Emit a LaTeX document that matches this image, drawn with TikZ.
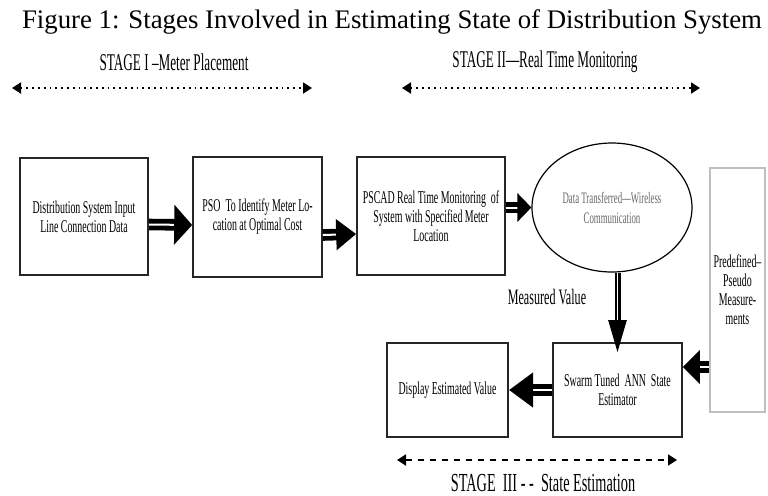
\documentclass[tikz,border=0pt]{standalone}
\usepackage{fontspec}
\setmainfont{Liberation Serif}
\newfontfamily\condfont{Liberation Serif}[FakeStretch=0.55]
\usetikzlibrary{arrows.meta,shapes.geometric,positioning}

\tikzset{
  blockbox/.style={draw=black!85, line width=0.8pt, align=center, inner sep=1pt,
    font=\condfont\fontsize{9}{9.5}\selectfont},
  fatarrow/.style={draw=black, double=white, double distance=1pt, line width=2.4pt},
  stagespan/.style={line width=0.9pt, {Triangle[length=4.5pt,width=5.5pt]}-{Triangle[length=4.5pt,width=5.5pt]}},
  stagelabel/.style={font=\condfont\fontsize{12}{13}\selectfont},
}

\begin{document}
\begin{tikzpicture}[x=0.5pt,y=-0.5pt]
    \useasboundingbox (0,0) rectangle (768,495);
    \node at (392,22) (title) {\fontsize{13.4}{15}\selectfont Figure 1: Stages Involved in Estimating State of Distribution System};
    % stage markers
    \coordinate (s1a) at (12,88);
    \coordinate (s1b) at (312,88);
    \coordinate (s2a) at (402,88);
    \coordinate (s2b) at (700,88);
    \coordinate (s3a) at (397,460);
    \coordinate (s3b) at (677,460);
    \draw[stagespan, dotted] (s1a) -- (s1b);
    \draw[stagespan, dotted] (s2a) -- (s2b);
    \draw[stagespan, dashed] (s3a) -- (s3b);
    \node[stagelabel] at (174,62) (st1) {STAGE I –Meter Placement};
    \node[stagelabel] at (545,62) (st2) {STAGE II—Real Time Monitoring};
    \node[stagelabel, font=\condfont\fontsize{13}{14}\selectfont] at (543,483) (st3) {STAGE\ \ III - -\ \ State Estimation};
    % blocks
    \node[blockbox, minimum width=64pt, minimum height=58.5pt] at (84,216.5) (input) {Distribution System Input\\Line Connection Data};
    \node[blockbox, minimum width=64.5pt, minimum height=60pt] at (257.5,217) (pso) {PSO\ \ To Identify Meter Lo-\\cation at Optimal Cost};
    \node[blockbox, minimum width=74pt, minimum height=59pt] at (431,216) (pscad) {PSCAD Real Time Monitoring\ \ of\\System with Specified Meter\\Location};
    \node[draw=black, line width=0.6pt, ellipse, minimum width=80pt, minimum height=64.5pt, align=center,
      text=black!60, font=\condfont\fontsize{8}{10}\selectfont] at (612,207.5) (wireless) {Data Transferred—Wireless\\Communication};
    \node[blockbox, draw=black!25, minimum width=27.5pt, minimum height=122pt] at (737.5,290) (pseudo) {Predefined–\\Pseudo\\Measure-\\ments};
    \node[blockbox, minimum width=64.5pt, minimum height=47pt] at (617.5,390) (swarm) {Swarm Tuned\ \ ANN\ \ State\\Estimator};
    \node[blockbox, line width=1.1pt, minimum width=60.5pt, minimum height=47pt] at (447.5,390) (display) {Display Estimated Value};
    \node[font=\condfont\fontsize{11}{12}\selectfont] at (547,297) (measured) {Measured Value};
    % connectors
    \draw[fatarrow, -{Triangle[length=9pt,width=19.5pt]}] ([yshift=-4pt]input.east) -- ([yshift=-4pt]pso.west);
    \draw[fatarrow, -{Triangle[length=10pt,width=15pt]}] ([yshift=-9pt]pso.east) -- ([yshift=-9pt]pscad.west);
    \draw[fatarrow, -{Triangle[length=7pt,width=14pt]}] (pscad.east |- wireless.west) -- (wireless.west);
    \draw[draw=black, double=white, double distance=0.6pt, line width=1.2pt, shorten >=-5pt,
      -{Triangle[length=16pt,width=9pt]}] (wireless.south -| swarm.north) -- (swarm.north);
    \draw[fatarrow, -{Triangle[length=12pt,width=17pt]}] (swarm) -- (display);
    \draw[fatarrow, -{Triangle[length=8.5pt,width=16.5pt]}] ([yshift=11.5pt]swarm.east -| pseudo.west) -- ([yshift=11.5pt]swarm.east);
\end{tikzpicture}
\end{document}
